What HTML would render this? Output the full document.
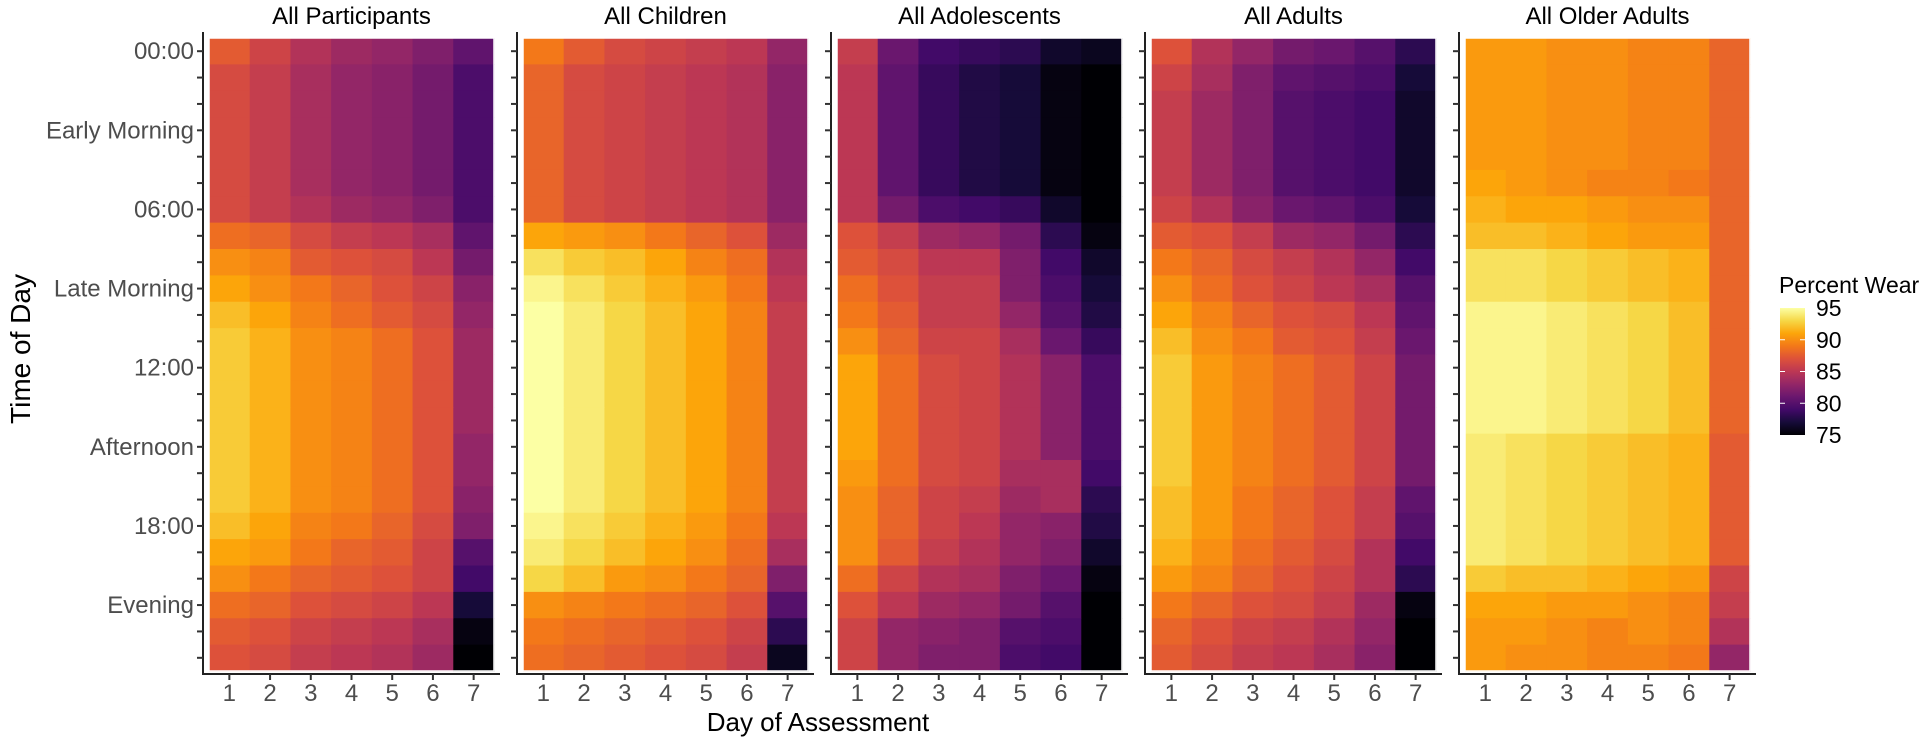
<!DOCTYPE html>
<html><head><meta charset="utf-8"><style>
html,body{margin:0;padding:0;background:#fff;}
svg{display:block;font-family:"Liberation Sans",Arial,sans-serif;}
</style></head><body>
<svg id="chart" width="1920" height="741" viewBox="0 0 1920 741" xmlns="http://www.w3.org/2000/svg">
<g id="panels"></g>
<text x="0" y="0" transform="translate(30,349) rotate(-90)" text-anchor="middle" font-size="28" fill="#000">Time of Day</text>
<text x="818" y="731" text-anchor="middle" font-size="26" fill="#000">Day of Assessment</text>
<g>
<defs><linearGradient id="lg" x1="0" y1="1" x2="0" y2="0">
<stop offset="0" stop-color="#000004"/><stop offset="0.1" stop-color="#160b39"/><stop offset="0.2" stop-color="#420a68"/><stop offset="0.3" stop-color="#6a176e"/><stop offset="0.4" stop-color="#932667"/><stop offset="0.5" stop-color="#bc3754"/><stop offset="0.6" stop-color="#dd513a"/><stop offset="0.7" stop-color="#f37819"/><stop offset="0.8" stop-color="#fca50a"/><stop offset="0.9" stop-color="#f6d746"/><stop offset="1" stop-color="#fcffa4"/>
</linearGradient></defs>
<text x="1779" y="293" font-size="23" fill="#000">Percent Wear</text>
<rect x="1780" y="308" width="25" height="127" fill="url(#lg)"/>
<g id="legTicks"></g>
</g>
</svg>
<script>
const days = [1,2,3,4,5,6,7];
const rowLabels = {0:"00:00",3:"Early Morning",6:"06:00",9:"Late Morning",12:"12:00",15:"Afternoon",18:"18:00",21:"Evening"};
const panelTitles = ["All Participants","All Children","All Adolescents","All Adults","All Older Adults"];
const legendTicks = [75,80,85,90,95];
const vMin = 75, vMax = 95;

const participants = [
[87.5,86,84.5,83.5,83,82,80.5],
[86.5,85.5,84,83,82.5,81.5,79.5],
[86.5,85.5,84,83,82.5,81.5,79.5],
[86.5,85.5,84,83,82.5,81.5,79.5],
[86.5,85.5,84,83,82.5,81.5,79.5],
[86.5,85.5,84,83,82.5,81.5,79.5],
[86.5,85.5,84.5,83.5,83,82,79.5],
[88.5,88,86.5,85.5,85,84,80.5],
[90,89.5,87.5,87,86.5,85,81.5],
[91,90,89,88,87,86,82.5],
[92,91,89.5,88.5,87.5,86.5,83],
[92.5,91.5,90,89.5,88.5,87,83.5],
[92.5,91.5,90,89.5,88.5,87,83.5],
[92.5,91.5,90,89.5,88.5,87,83.5],
[92.5,91.5,90,89.5,88.5,87,83.5],
[92.5,91.5,90,89.5,88.5,87,83],
[92.5,91.5,90,89.5,88.5,87,83],
[92.5,91.5,90,89.5,88.5,87,82.5],
[92,91,89.5,89,88,86.5,82],
[91,90.5,89,88,87.5,86,80],
[90,89,88,87.5,87,86,79],
[88.5,88,87,86.5,86,85,77],
[87.5,87,86,85.5,85,84,75.5],
[87,86.5,85.5,85,84.5,83.5,75]];
const children = [
[89,87.5,86.5,86,85.5,85,83],
[88,86.5,86,85.5,85,84.5,82.5],
[88,86.5,86,85.5,85,84.5,82.5],
[88,86.5,86,85.5,85,84.5,82.5],
[88,86.5,86,85.5,85,84.5,82.5],
[88,86.5,86,85.5,85,84.5,82.5],
[88,86.5,86,85.5,85,84.5,82.5],
[91,90.5,90,89,88,87,83.5],
[93.5,92.5,92,91,89.5,88.5,84.5],
[94.5,93.5,92.5,91.5,90.5,89,85],
[95,94,93,92,91,89.5,85.5],
[95,94,93,92,91,89.5,85.5],
[95,94,93,92,91,89.5,85.5],
[95,94,93,92,91,89.5,85.5],
[95,94,93,92,91,89.5,85.5],
[95,94,93,92,91,89.5,85.5],
[95,94,93,92,91,89.5,85.5],
[95,94,93,92,91,89.5,85.5],
[94.5,93.5,92.5,91.5,90.5,89,85],
[94,93,92,91,90,88.5,84],
[93,92,90.5,90,89,88,82],
[90,89.5,89,88.5,88,87,80],
[89,88.5,88,87.5,87,86,78],
[88.5,88,87.5,87,86.5,85.5,76]];
const adolescents = [
[85.5,81,79,78.5,78,76.5,76],
[85,80.5,78.5,77.5,77,75.5,75],
[85,80.5,78.5,77.5,77,75.5,75],
[85,80.5,78.5,77.5,77,75.5,75],
[85,80.5,78.5,77.5,77,75.5,75],
[85,80.5,78.5,77.5,77,75.5,75],
[85,81.5,79.5,79,78.5,76.5,75],
[87,85.5,83.5,83,81.5,78,75.5],
[87.5,86.5,85,85,82,79,76.5],
[88.5,87,85.5,85.5,82,79.5,77],
[89,87.5,85.5,85.5,83,80,77.5],
[90,88,86,86,84,81,78.5],
[91,88.5,86.5,86,84.5,82.5,79.5],
[91,88.5,86.5,86,84.5,82.5,79.5],
[91,88.5,86.5,86,84.5,82.5,79.5],
[91,88.5,86.5,86,84.5,82.5,79.5],
[90.5,88.5,86.5,86,84,84,79],
[90,88,86,85.5,83.5,84,78],
[90,88,86,85,83,82.5,77.5],
[90,87.5,85.5,84.5,83,82,76.5],
[88.5,86,84.5,84,82,81,75.5],
[87,85,83.5,83,81.5,80,75],
[86,83,82.5,82,80,79.5,75],
[86,83,82,82,79.5,79,75]];
const adults = [
[87,84.5,83,81.5,81,80,78],
[86,84,82,80.5,80,79.5,77],
[85.5,83.5,82,80,79.5,79,76.5],
[85.5,83.5,82,80,79.5,79,76.5],
[85.5,83.5,82,80,79.5,79,76.5],
[85.5,83.5,82,80,79.5,79,76.5],
[86,84.5,82.5,81,80.5,79.5,77],
[87.5,87,85.5,83.5,83,81.5,78],
[89,88,86.5,85.5,84.5,83,79],
[90,88.5,87,86,85,84,80],
[91,89.5,88,87,86.5,85,80.5],
[92,90,89,87.5,87,85.5,81],
[92.5,90.5,89.5,88.5,87.5,86,81.5],
[92.5,90.5,89.5,88.5,87.5,86,81.5],
[92.5,90.5,89.5,88.5,87.5,86,81.5],
[92.5,90.5,89.5,88.5,87.5,86,81.5],
[92.5,90.5,89.5,88.5,87.5,86,81.5],
[92,90.5,89,88,87,85.5,80.5],
[92,90.5,89,88,87,85.5,80],
[91.5,90,88.5,87.5,86.5,84.5,79],
[90.5,89.5,88,87,86,84.5,78],
[89,88,87,86.5,85.5,83.5,75.5],
[88,87,86,85.5,84.5,83,75],
[87.5,86.5,85.5,85,84,82.5,75]];
const olderAdults = [
[90.5,90.5,90,90,89.5,89.5,88],
[90.5,90.5,90,90,89.5,89.5,88],
[90.5,90.5,90,90,89.5,89.5,88],
[90.5,90.5,90,90,89.5,89.5,88],
[90.5,90.5,90,90,89.5,89.5,88],
[91,90.5,90,89.5,89.5,89,88],
[91.5,91,91,90.5,90,90,88],
[92,92,91.5,91,90.5,90.5,88],
[93.5,93.5,93,92.5,92,91.5,88],
[93.5,93.5,93,92.5,92,91.5,88],
[94.5,94.5,94,93.5,93,92,88],
[94.5,94.5,94,93.5,93,92,88],
[94.5,94.5,94,93.5,93,92,88],
[94.5,94.5,94,93.5,93,92,88],
[94.5,94.5,94,93.5,93,92,88],
[94,93.5,93,92.5,92,91.5,87.5],
[94,93.5,93,92.5,92,91.5,87.5],
[94,93.5,93,92.5,92,91.5,87.5],
[94,93.5,93,92.5,92,91.5,87.5],
[94,93.5,93,92.5,92,91.5,87.5],
[92.5,92,92,91.5,91,90.5,86],
[91,91,90.5,90.5,90,89.5,85.5],
[90.5,90.5,90,89.5,90,89.5,84.5],
[90.5,90,90,89.5,89.5,89,83]];
const panelData = [participants, children, adolescents, adults, olderAdults];

const stops = ["#000004","#160b39","#420a68","#6a176e","#932667","#bc3754","#dd513a","#f37819","#fca50a","#f6d746","#fcffa4"];
function hex(h){return [1,3,5].map(i=>parseInt(h.substr(i,2),16));}
function color(v){
  let t=(v-vMin)/(vMax-vMin); t=Math.max(0,Math.min(1,t));
  const p=t*10, i=Math.min(9,Math.floor(p)), f=p-i;
  const a=hex(stops[i]), b=hex(stops[i+1]);
  return "rgb("+a.map((x,k)=>Math.round(x+(b[k]-x)*f)).join(",")+")";
}
const NS="http://www.w3.org/2000/svg";
function mk(tag,attrs,parent){const e=document.createElementNS(NS,tag);for(const k in attrs)e.setAttribute(k,attrs[k]);parent.appendChild(e);return e;}
const panelLeft0=209, panelStep=314, panelW=285, plotTop=38, plotH=633;
const nRows=24, cw=panelW/days.length, rh=plotH/nRows;
function xScale(p,d){return panelLeft0+p*panelStep+(d-1)*cw;}
function yScale(r){return plotTop+r*rh;}
const root=document.getElementById("panels");
panelData.forEach((data,p)=>{
  const g=mk("g",{},root);
  
  
  const L=panelLeft0+p*panelStep;
  const t=mk("text",{x:L+panelW/2,y:24,"text-anchor":"middle","font-size":"24",fill:"#000"},g);
  t.textContent=panelTitles[p];
  
  
  data.forEach((row,r)=>{
    row.forEach((v,di)=>{
      const c=mk("rect",{x:xScale(p,days[di]).toFixed(2),y:yScale(r).toFixed(2),width:(cw+0.6).toFixed(2),height:(rh+0.6).toFixed(2),fill:color(v)},g);
      
      
    });
  });
  mk("rect",{x:L,y:plotTop,width:panelW,height:plotH,fill:"none",stroke:"#fff","stroke-width":"1.5"},g);
  const ax=mk("path",{d:"M"+(L-6)+" 32 V674 H"+(L+panelW+6),stroke:"#222","stroke-width":"2",fill:"none"},g);
  
  
  for(let r=0;r<nRows;r++){
    const y=yScale(r)+rh/2;
    mk("line",{x1:L-12,x2:L-6,y1:y,y2:y,stroke:"#333","stroke-width":"2"},g);
    if(p===0 && rowLabels[r]!==undefined){
      const lt=mk("text",{x:L-15,y:y+8,"text-anchor":"end","font-size":"24",fill:"#4d4d4d"},g);
      lt.textContent=rowLabels[r];
      
      
    }
  }
  days.forEach(d=>{
    const x=xScale(p,d)+cw/2;
    mk("line",{x1:x,x2:x,y1:674,y2:680,stroke:"#333","stroke-width":"2"},g);
    const xt=mk("text",{x:x,y:701,"text-anchor":"middle","font-size":"24",fill:"#4d4d4d"},g);
    xt.textContent=d;
    
    
  });
});
const legG=document.getElementById("legTicks");
legendTicks.forEach(v=>{
  const y=435-(v-vMin)/(vMax-vMin)*127;
  if(v>vMin&&v<vMax){
    mk("line",{x1:1780,x2:1785,y1:y,y2:y,stroke:"#fff","stroke-width":"1"},legG);
    mk("line",{x1:1800,x2:1805,y1:y,y2:y,stroke:"#fff","stroke-width":"1"},legG);
  }
  const t=mk("text",{x:1816,y:y+8,"font-size":"23",fill:"#000"},legG);
  t.textContent=v;
  
  
});
</script>
</body></html>
